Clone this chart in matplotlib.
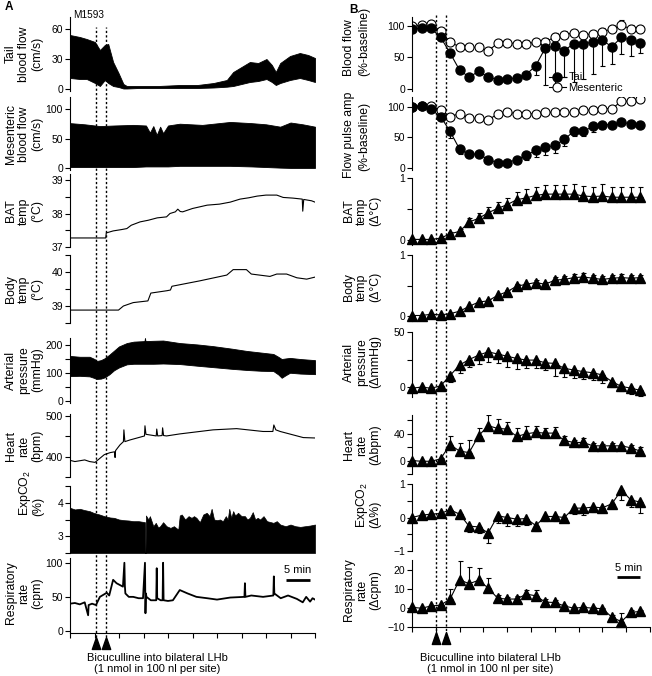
import matplotlib
matplotlib.use("Agg")
import matplotlib.pyplot as plt
from matplotlib.path import Path
from matplotlib.transforms import blended_transform_factory

plt.rcParams["font.family"] = ["Liberation Sans", "DejaVu Sans"]
plt.rcParams["mathtext.fontset"] = "custom"
plt.rcParams["mathtext.rm"] = "Liberation Sans"
plt.rcParams["mathtext.it"] = "Liberation Sans:italic"

W, H = 652, 676

# ----------------------------------------------------------------
# Data  (A: single rat M1593 raw traces, B: group means +/- SE)
# ----------------------------------------------------------------
INJ_LEFT = [5.3, 7.3]      # min, bicuculline injections (A)
INJ_RIGHT = [5.0, 7.1]     # min, bicuculline injections (B)

# A1 tail blood flow (cm/s) envelope
TAIL_T = [0, 2, 3.4, 5.1, 6.1, 7.1, 7.8, 8.8, 9.9, 10.9, 11.6, 14, 18, 22.4, 26,
          29.3, 32, 33.3, 35, 36.7, 38.4, 40.1, 41.2, 42, 42.9, 44.9, 46.9, 48.6, 50]
TAIL_HI = [54, 52, 50, 47, 39, 44, 45, 27, 16, 5, 3, 3, 3, 4, 4,
           6, 9, 17, 22, 27, 26, 30, 24, 17, 26, 33, 36, 34, 31]
TAIL_LO = [11, 10, 10, 6, 3, 9, 6, 3, 2, 0.5, 0.5, 1, 1, 1, 1,
           1.5, 2.3, 3, 5, 7, 8, 10, 7, 4, 6, 9, 11, 9, 7]

# A2 mesenteric blood flow (cm/s) envelope
MES_T = [0, 3, 6.1, 9, 12.9, 15.5, 16.3, 17, 17.7, 18.4, 19, 20, 22.4, 27, 32.7,
         37, 40, 42.9, 45, 47.5, 50]
MES_HI = [76, 74, 71, 72, 73, 72, 60, 71, 56, 70, 59, 72, 75, 73, 78,
          76, 74, 70, 77, 74, 70]
MES_LO = [2, 2, 2, 2, 2, 3, 3, 3, 3, 3, 3, 3, 4, 4, 4,
          3, 2, 1, 0.5, 0.5, 0.5]

# A3 BAT temperature (deg C)
BAT_T = [0, 7.3, 7.4, 8.8, 10.5, 11.6, 12.5, 14.3, 16, 17.8, 19.7, 20.4, 21.5, 22,
         22.5, 23, 25, 28, 30.5, 32.7, 34.7, 36.5, 38.2, 40, 42.2, 43.5, 45.5, 47.4,
         47.5, 47.7, 48.5, 49.3, 50]
BAT_V = [37.27, 37.27, 37.42, 37.48, 37.52, 37.55, 37.65, 37.75, 37.8, 37.87, 37.9,
         38.0, 38.05, 38.13, 38.06, 38.05, 38.15, 38.25, 38.28, 38.34, 38.43, 38.47,
         38.52, 38.55, 38.55, 38.48, 38.46, 38.43, 38.07, 38.42, 38.4, 38.38, 38.34]

# A4 body temperature (deg C)
BODY_T = [0, 9.9, 10.9, 12.9, 15.9, 16.5, 19.8, 20.5, 20.8, 26.5, 32, 33.3, 36,
          37, 40.8, 42.2, 44.2, 46.3, 48.3, 50]
BODY_V = [38.88, 38.88, 39.0, 39.1, 39.15, 39.38, 39.45, 39.47, 39.58, 39.74, 39.91,
          40.07, 40.07, 39.94, 39.87, 39.94, 39.94, 39.83, 39.79, 39.85]

# A5 arterial pressure (mmHg) envelope
AP_T = [0, 2, 4, 5, 5.5, 6.3, 7, 8, 9, 10, 11.6, 13, 15.2, 15.3, 15.4, 17, 19,
        22.4, 26, 29.2, 33, 36, 39, 41.5, 42.5, 43.2, 44, 44.9, 47, 50]
AP_HI = [161, 158, 158, 150, 143, 146, 152, 165, 180, 195, 207, 212, 214, 225, 214,
         215, 216, 207, 202, 196, 187, 179, 173, 168, 158, 150, 152, 154, 150, 146]
AP_LO = [89, 90, 88, 82, 79, 80, 84, 95, 110, 120, 131, 133, 133, 133, 133,
         133, 134, 132, 126, 121, 115, 111, 108, 107, 95, 83, 92, 101, 98, 96]

# A6 heart rate (bpm)
HR_T = [0, 1, 2, 3, 4, 5.1, 6, 7, 8.2, 9.1, 9.2, 9.3, 10.2, 10.9, 11.0, 11.2, 12.2,
        15.2, 15.3, 15.5, 17.6, 17.7, 17.9, 18.8, 18.9, 19.1, 19.7, 22.4, 29.2, 34,
        39.4, 41.4, 41.6, 42.0, 42.9, 47.6, 50]
HR_V = [391, 388, 390, 392, 388, 386, 395, 405, 410, 412, 398, 415, 429, 437, 466,
        437, 441, 451, 476, 455, 451, 468, 451, 452, 471, 452, 451, 456, 466, 469,
        462, 462, 478, 466, 462, 447, 446]

# A7 expired CO2 (%) upper envelope (filled to axis bottom)
CO2_T = [0, 1, 2, 3, 4, 4.8, 6, 7, 8.2, 9, 10, 11, 12, 12.9, 14, 15.3, 15.4, 15.5,
         16.0, 16.3, 17.0, 17.5, 18.0, 18.4, 19.0, 19.7, 20.5, 21.2, 22.1, 22.4, 22.8,
         23.5, 24.2, 24.8, 25.3, 25.8, 26.5, 27.2, 27.9, 28.5, 28.9, 29.4, 30.0, 30.6,
         31.2, 31.8, 32.2, 32.5, 32.9, 33.3, 33.7, 34.3, 35.0, 35.7, 36.2, 36.7, 37.3,
         37.8, 38.3, 38.8, 39.5, 40.2, 41.0, 41.5, 42.2, 42.9, 44, 45, 46, 47, 48, 49, 50]
CO2_HI = [3.85, 3.8, 3.82, 3.78, 3.75, 3.7, 3.65, 3.6, 3.56, 3.55, 3.5, 3.48, 3.47,
          3.45, 3.45, 3.42, 2.5, 3.62, 3.5, 3.6, 3.3, 3.4, 3.26, 3.3, 3.42, 3.3, 3.25,
          3.3, 3.2, 3.62, 3.65, 3.5, 3.6, 3.55, 3.6, 3.55, 3.42, 3.65, 3.7, 3.6, 3.82,
          3.5, 3.48, 3.5, 3.45, 3.6, 3.5, 3.82, 3.55, 3.75, 3.62, 3.7, 3.6, 3.6, 3.5,
          3.55, 3.72, 3.5, 3.55, 3.5, 3.6, 3.45, 3.42, 3.4, 3.45, 3.35, 3.3, 3.35, 3.3,
          3.28, 3.3, 3.32, 3.35]

# A8 respiratory rate (cpm)
RR_T = [0, 1, 2, 3, 3.7, 3.8, 4.5, 5.3, 6.1, 7.5, 8.0, 8.8, 9.5, 10.8, 11.1, 11.2, 11.3,
        12, 12.9, 14, 14.9, 15.3, 15.4, 15.5, 15.6, 16.5, 17.6, 17.7, 17.8, 18.5, 18.9,
        19.0, 19.1, 20, 21, 22.4, 24, 25.8, 28, 30, 32.7, 35.6, 35.7, 35.8, 37, 39.4,
        41.5, 41.6, 41.7, 43, 44.5, 46.3, 47.5, 48.2, 49, 49.5, 50]
RR_V = [40, 41, 39, 42, 23, 38, 40, 38, 50, 56, 52, 75, 70, 65, 100, 66, 55, 50, 50, 48,
        48, 100, 26, 55, 50, 45, 45, 92, 48, 45, 45, 100, 45, 44, 45, 60, 55, 50, 48, 46,
        49, 50, 70, 50, 52, 50, 52, 80, 55, 48, 52, 47, 42, 50, 43, 48, 46]

# B: group data every 2 min
B_T = list(range(0, 50, 2))
BF_TAIL = [95, 96, 96, 82, 57, 30, 19, 28, 19, 15, 16, 18, 23, 37, 65, 68, 61, 72, 72,
           74, 77, 67, 82, 77, 73]
BF_TAIL_SE = [3, 3, 3, 4, 6, 5, 4, 5, 4, 3, 3, 3, 4, 14, 58, 61, 42, 60, 56, 50, 41, 28,
              26, 24, 16]
BF_MES = [100, 101, 103, 92, 74, 67, 66, 66, 60, 73, 73, 72, 72, 74, 75, 82, 86, 89, 86,
          87, 91, 95, 101, 95, 95]
BF_MES_SE = [3, 3, 3, 4, 6, 5, 5, 5, 6, 5, 5, 5, 5, 5, 6, 7, 6, 5, 5, 5, 5, 6, 8, 6, 5]
PA_TAIL = [100, 101, 96, 84, 60, 31, 23, 23, 14, 9, 9, 14, 21, 29, 34, 37, 47, 60, 60,
           68, 71, 71, 75, 72, 71]
PA_TAIL_SE = [2, 2, 3, 4, 11, 8, 5, 5, 4, 3, 3, 4, 7, 10, 12, 13, 11, 8, 8, 9, 7, 6, 5,
              5, 5]
PA_MES = [100, 102, 102, 94, 84, 89, 82, 81, 78, 89, 91, 89, 88, 89, 91, 91, 91, 91, 94,
          95, 97, 97, 109, 109, 112]
PA_MES_SE = [2, 3, 3, 4, 4, 4, 4, 4, 4, 4, 4, 4, 4, 4, 4, 4, 4, 4, 4, 4, 5, 5, 6, 7, 6]
BAT_D = [0.01, 0.01, 0.01, 0.03, 0.10, 0.14, 0.29, 0.35, 0.44, 0.51, 0.57, 0.65, 0.68,
         0.72, 0.74, 0.74, 0.74, 0.74, 0.71, 0.70, 0.71, 0.69, 0.69, 0.69, 0.69]
BAT_SE = [0, 0, 0, 0.01, 0.03, 0.04, 0.07, 0.08, 0.09, 0.1, 0.11, 0.13, 0.14, 0.14, 0.14,
          0.14, 0.15, 0.16, 0.16, 0.16, 0.2, 0.16, 0.16, 0.16, 0.16]
BODY_D = [0.01, 0.01, 0.03, 0.02, 0.04, 0.08, 0.16, 0.23, 0.25, 0.34, 0.40, 0.49, 0.52,
          0.55, 0.52, 0.59, 0.60, 0.63, 0.64, 0.62, 0.60, 0.62, 0.63, 0.62, 0.63]
BODY_SE = [0, 0, 0, 0, 0.01, 0.01, 0.02, 0.02, 0.03, 0.03, 0.03, 0.03, 0.03, 0.04, 0.04,
           0.05, 0.05, 0.06, 0.06, 0.06, 0.06, 0.06, 0.06, 0.06, 0.05]
AP_D = [-1, 0, -1, 1, 10.5, 20, 25, 29, 32, 30, 28, 26, 24.5, 24.5, 22, 21.5, 17, 15.5,
        14, 13, 11, 5, 0.6, -1, -3]
AP_SE = [0.5, 0.5, 0.5, 1, 5.5, 7.5, 6.5, 8, 9, 8.5, 10, 10, 7.5, 7.5, 6.5, 11.5, 7.5, 7,
         7, 7, 7, 5, 4.5, 5, 5.5]
HR_D = [0, -1, -1, 2.5, 24, 14, 12, 37, 52, 48, 47, 36, 40, 42, 41, 41, 30, 27, 27, 22,
        22, 22, 22, 19, 14]
HR_SE = [0.5, 0.5, 0.5, 1, 12, 12, 18, 12, 16, 14, 11, 12, 11, 10, 7.5, 9, 6, 4, 6, 4,
         3, 4, 2, 5, 7]
CO2_D = [0, 0.07, 0.10, 0.12, 0.23, 0.10, -0.26, -0.28, -0.46, 0.05, 0, -0.05, -0.03,
         -0.24, 0.03, 0.03, 0, 0.28, 0.28, 0.31, 0.29, 0.41, 0.82, 0.52, 0.46]
CO2_SE = [0, 0.02, 0.03, 0.04, 0.05, 0.05, 0.18, 0.18, 0.29, 0.2, 0.26, 0.2, 0.2, 0.17,
          0.13, 0.13, 0.1, 0.18, 0.21, 0.16, 0.14, 0.1, 0.3, 0.2, 0.33]
RR_D = [0.3, -0.2, 1, 1.4, 4.6, 14.7, 12.6, 14.4, 10.4, 5, 4.6, 4.6, 7.2, 6.3, 3, 2.8, 1,
        -0.2, 0.3, -0.2, -0.4, -4.9, -7.2, -2.3, -1.9]
RR_SE = [0, 0, 0, 0, 5.5, 9.6, 9, 6.5, 5, 1.5, 1, 1.5, 2.3, 3, 1.5, 1.5, 0.5, 0.5, 0.5,
         0.5, 0.5, 1, 4.5, 1, 1]


def box(x0, x1, y0, y1):
    """pixel extents (from top-left) -> figure fraction rect"""
    return [x0 / W, 1 - y1 / H, (x1 - x0) / W, (y1 - y0) / H]


fig = plt.figure(figsize=(W / 100, H / 100), dpi=100, facecolor="white")

LX = (70, 315)
RX = (412, 650)

# label spec: either (text, x, y) -> one centred 3-line block,
# or list of (line, x, y, va) -> lines placed one by one
LEFT_ROWS = [
    (17, 91, (-2, 72), [0, 30, 60], [], ("Tail\nblood flow\n(cm/s)", 24, 54)),
    (97, 170, (-3, 120), [0, 50, 100], [], ("Mesenteric\nblood flow\n(cm/s)", 24, 134)),
    (174, 247, (37, 39.18), [37, 38, 39], [37.5, 38.5], ("BAT\ntemp\n(°C)", 24, 211)),
    (255, 323, (38.5, 40.5), [39, 40], [38.5, 39.5, 40.5], ("Body\ntemp\n(°C)", 24, 289)),
    (338, 403, (-7, 225), [0, 100, 200], [50, 150], ("Arterial\npressure\n(mmHg)", 24, 370)),
    (414, 477, (350, 505), [400, 500], [350, 450], ("Heart\nrate\n(bpm)", 24, 446)),
    (486, 553, (2.5, 4.5), [3, 4], [2.5, 3.5, 4.5],
     [("ExpCO$_2$", 25, 516, "bottom"), ("(%)", 38, 516, "bottom")]),
    (558, 633, (-3, 107), [0, 50, 100], [], ("Respiratory\nrate\n(cpm)", 24, 593)),
]
RIGHT_ROWS = [
    (17, 91, (-3, 114), [0, 50, 100], [],
     [("Blood flow", 349, 76, "bottom"), ("(%-baseline)", 364, 76, "bottom")]),
    (97, 170, (-3, 116), [0, 50, 100], [],
     [("Flow pulse amp", 349, 135, "center"), ("(%-baseline)", 364, 136, "center")]),
    (178, 245, (-0.08, 1.0), [0, 1], [0.5], ("BAT\ntemp\n(Δ°C)", 362, 211)),
    (255, 321, (-0.08, 1.0), [0, 1], [0.5], ("Body\ntemp\n(Δ°C)", 362, 287)),
    (332, 397, (-9, 50), [0, 50], [25], ("Arterial\npressure\n(ΔmmHg)", 362, 362)),
    (415, 474, (-20, 68), [0, 40], [-20, 20, 60], ("Heart\nrate\n(Δbpm)", 362, 445)),
    (484, 551, (-1, 1), [-1, 0, 1], [-0.5, 0.5],
     [("ExpCO$_2$", 362, 528, "bottom"), ("(Δ%)", 375, 528, "bottom")]),
    (560, 627, (-10, 25), [-10, 0, 10, 20], [], ("Respiratory\nrate\n(Δcpm)", 362, 590)),
]

LABEL_FS = 8.8


def make_axes(rows, xr):
    axes = []
    for i, (y0, y1, ylim, major, minor, label) in enumerate(rows):
        ax = fig.add_axes(box(xr[0], xr[1], y0, y1))
        ax.patch.set_alpha(0)
        ax.set_xlim(0, 50)
        ax.set_ylim(*ylim)
        ax.set_yticks(major)
        ax.set_yticks(minor, minor=True)
        for s in ("top", "right"):
            ax.spines[s].set_visible(False)
        ax.spines["left"].set_linewidth(0.8)
        ax.tick_params(axis="y", which="both", direction="out", length=3.5,
                       width=0.8, labelsize=7.5, pad=1.5)
        last = i == len(rows) - 1
        if last:
            ax.set_xticks(range(0, 51, 5))
            ax.set_xticklabels([])
            ax.tick_params(axis="x", direction="out", length=3.5, width=0.8)
            ax.spines["bottom"].set_linewidth(0.8)
        else:
            ax.spines["bottom"].set_visible(False)
            ax.set_xticks([])
        if isinstance(label, tuple):
            txt, lx, ly = label
            fig.text(lx / W, 1 - ly / H, txt, rotation=90, ha="center", va="center",
                     multialignment="center", fontsize=LABEL_FS, linespacing=1.12)
        else:
            for txt, lx, ly, va in label:
                fig.text(lx / W, 1 - ly / H, txt, rotation=90, ha="center", va=va,
                         fontsize=LABEL_FS)
        axes.append(ax)
    return axes


axL = make_axes(LEFT_ROWS, LX)
axR = make_axes(RIGHT_ROWS, RX)

# ----------------------------------------------------------------
# A — raw traces
# ----------------------------------------------------------------
axL[0].fill_between(TAIL_T, TAIL_LO, TAIL_HI, color="black", lw=0.6)
axL[1].fill_between(MES_T, MES_LO, MES_HI, color="black", lw=0.6)
axL[2].plot(BAT_T, BAT_V, color="black", lw=0.8)
axL[3].plot(BODY_T, BODY_V, color="black", lw=0.8)
axL[4].fill_between(AP_T, AP_LO, AP_HI, color="black", lw=0.6)
axL[5].plot(HR_T, HR_V, color="black", lw=0.8)
axL[6].fill_between(CO2_T, 2.5, CO2_HI, color="black", lw=0.5)
axL[7].plot(RR_T, RR_V, color="black", lw=1.3)

# scale bar
axL[7].plot([44, 49], [74, 74], color="black", lw=2, solid_capstyle="butt")
axL[7].text(46.5, 90, "5 min", ha="center", va="center", fontsize=8)

# ----------------------------------------------------------------
# B — group means
# ----------------------------------------------------------------
EB = dict(fmt="none", ecolor="black", elinewidth=0.8, capsize=1.8, capthick=0.8)
zeros = [0] * len(B_T)

ax = axR[0]
ax.errorbar(B_T, BF_MES, yerr=[zeros, BF_MES_SE], **EB)
ax.plot(B_T, BF_MES, "-o", color="black", lw=0.8, ms=6.5, mfc="white", mew=0.8,
        label="Mesenteric")
ax.errorbar(B_T, BF_TAIL, yerr=[BF_TAIL_SE, zeros], **EB)
ax.plot(B_T, BF_TAIL, "-o", color="black", lw=0.8, ms=6.5, label="Tail")
h, lab = ax.get_legend_handles_labels()
leg = ax.legend(h[::-1], lab[::-1], loc="upper left", bbox_to_anchor=(0.575, 0.25),
                frameon=False, fontsize=8, handlelength=1.5, handletextpad=0.25,
                labelspacing=0.05, borderaxespad=0, borderpad=0)
leg.set_zorder(5)

ax = axR[1]
ax.errorbar(B_T, PA_MES, yerr=[zeros, PA_MES_SE], **EB)
ax.plot(B_T, PA_MES, "-o", color="black", lw=0.8, ms=6.5, mfc="white", mew=0.8)
ax.errorbar(B_T, PA_TAIL, yerr=[PA_TAIL_SE, zeros], **EB)
ax.plot(B_T, PA_TAIL, "-o", color="black", lw=0.8, ms=6.5)

tri_series = [
    (axR[2], BAT_D, BAT_SE, "up"),
    (axR[3], BODY_D, BODY_SE, "up"),
    (axR[4], AP_D, AP_SE, "down"),
    (axR[5], HR_D, HR_SE, "up"),
    (axR[6], CO2_D, CO2_SE, "down"),
    (axR[7], RR_D, RR_SE, "up"),
]
for ax, vals, se, side in tri_series:
    err = [zeros, se] if side == "up" else [se, zeros]
    ax.errorbar(B_T, vals, yerr=err, **EB)
    ax.plot(B_T, vals, "-^", color="black", lw=0.8, ms=6.5, clip_on=False)

axR[7].plot([43, 48], [16.3, 16.3], color="black", lw=2, solid_capstyle="butt")
axR[7].text(45.5, 21, "5 min", ha="center", va="center", fontsize=8)

# ----------------------------------------------------------------
# injection markers: dashed lines + arrowheads
# ----------------------------------------------------------------
TRI = Path([(-0.35, -0.5), (0.35, -0.5), (0, 0.5), (-0.35, -0.5)],
           [Path.MOVETO, Path.LINETO, Path.LINETO, Path.CLOSEPOLY])

for xr, inj, top, bot, tri_y in ((LX, INJ_LEFT, 27, 637, 642.5),
                                 (RX, INJ_RIGHT, 15, 635, 638)):
    ov = fig.add_axes(box(xr[0], xr[1], top, bot))
    ov.set_xlim(0, 50)
    ov.set_ylim(0, 1)
    ov.axis("off")
    for t in inj:
        ov.axvline(t, color="black", lw=1.0, ls=(0, (1.6, 1.6)))
    tr = blended_transform_factory(ov.transData, fig.transFigure)
    ov.plot(inj, [1 - tri_y / H] * 2, ls="none", marker=TRI, ms=8.6, color="black",
            transform=tr, clip_on=False)

for cx in (157, 490):
    fig.text(cx / W, 1 - 658 / H, "Bicuculline into bilateral LHb", ha="center",
             va="center", fontsize=8)
    fig.text(cx / W, 1 - 669.5 / H, "(1 nmol in 100 nl per site)", ha="center",
             va="center", fontsize=8)

fig.text(8.5 / W, 1 - 7 / H, "A", fontsize=8.5, fontweight="bold", ha="center", va="center")
fig.text(353 / W, 1 - 10 / H, "B", fontsize=8.5, fontweight="bold", ha="center", va="center")
fig.text(73 / W, 1 - 15.5 / H, "M1593", fontsize=7.2, ha="left", va="center")

fig.savefig("out.png", dpi=100, facecolor="white")
